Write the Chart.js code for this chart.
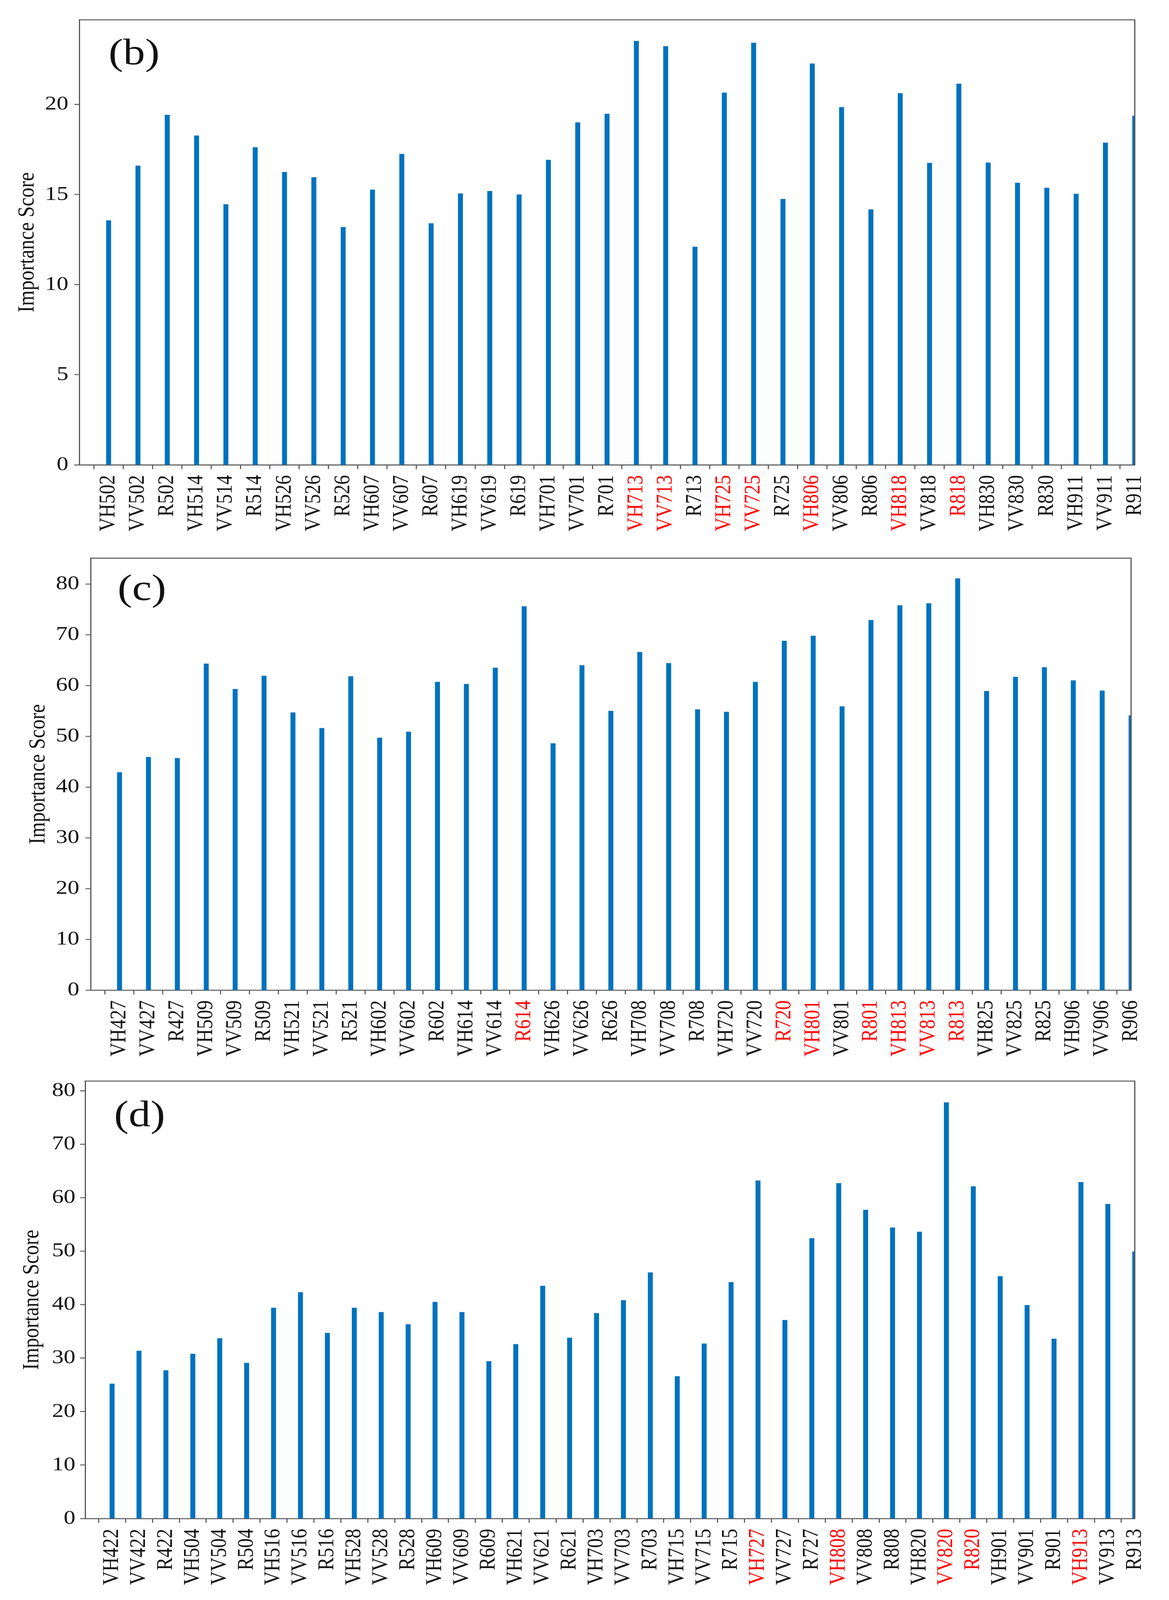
<!DOCTYPE html>
<html>
<head>
<meta charset="utf-8">
<script src="https://cdn.jsdelivr.net/npm/chart.js@4.4.1/dist/chart.umd.min.js"></script>
<style>
  html, body { margin: 0; padding: 0; background: #ffffff; overflow: hidden; }
  #wrap { position: relative; width: 2992px; background: #ffffff; overflow: hidden; }
  canvas { position: absolute; left: 0; }
</style>
</head>
<body>
<div id="wrap">
  <canvas id="chartB" width="2992" height="1640"></canvas>
  <canvas id="chartC" width="2992" height="1590"></canvas>
  <canvas id="chartD" width="2992" height="1621"></canvas>
</div>
<script>
// ---------------- DATA ----------------
const yTitle = 'Importance Score';

// Panel (b)
const bLetter = '(b)';
const bLabels = ['VH502','VV502','R502','VH514','VV514','R514','VH526','VV526','R526',
                 'VH607','VV607','R607','VH619','VV619','R619','VH701','VV701','R701',
                 'VH713','VV713','R713','VH725','VV725','R725','VH806','VV806','R806',
                 'VH818','VV818','R818','VH830','VV830','R830','VH911','VV911','R911'];
const bValues = [13.56,16.6,19.42,18.27,14.46,17.62,16.25,15.96,13.19,
                 15.27,17.25,13.4,15.06,15.19,15.0,16.92,19.0,19.48,
                 23.52,23.23,12.1,20.65,23.42,14.75,22.27,19.85,14.17,
                 20.62,16.75,21.15,16.77,15.65,15.37,15.04,17.88,19.37];
const bRed = ['VH713','VV713','VH725','VV725','VH806','VH818','R818'];
const bYTicks = [0, 5, 10, 15, 20];
const bYMax = 24.7;

// Panel (c)
const cLetter = '(c)';
const cLabels = ['VH427','VV427','R427','VH509','VV509','R509','VH521','VV521','R521',
                 'VH602','VV602','R602','VH614','VV614','R614','VH626','VV626','R626',
                 'VH708','VV708','R708','VH720','VV720','R720','VH801','VV801','R801',
                 'VH813','VV813','R813','VH825','VV825','R825','VH906','VV906','R906'];
const cValues = [42.9,45.9,45.7,64.3,59.3,61.9,54.7,51.6,61.8,
                 49.7,50.9,60.7,60.3,63.5,75.6,48.6,64.0,55.0,
                 66.6,64.4,55.3,54.8,60.7,68.8,69.8,55.9,72.9,
                 75.8,76.2,81.1,58.9,61.7,63.6,61.0,59.0,54.1];
const cRed = ['R614','R720','VH801','R801','VH813','VV813','R813'];
const cYTicks = [0, 10, 20, 30, 40, 50, 60, 70, 80];
const cYMax = 85.1;

// Panel (d)
const dLetter = '(d)';
const dLabels = ['VH422','VV422','R422','VH504','VV504','R504','VH516','VV516','R516',
                 'VH528','VV528','R528','VH609','VV609','R609','VH621','VV621','R621',
                 'VH703','VV703','R703','VH715','VV715','R715','VH727','VV727','R727',
                 'VH808','VV808','R808','VH820','VV820','R820','VH901','VV901','R901',
                 'VH913','VV913','R913'];
const dValues = [25.2,31.35,27.7,30.8,33.7,29.1,39.4,42.3,34.7,
                 39.4,38.6,36.3,40.5,38.6,29.4,32.6,43.5,33.8,
                 38.4,40.8,46.0,26.6,32.7,44.2,63.2,37.1,52.4,
                 62.7,57.7,54.4,53.6,77.8,62.1,45.3,39.9,33.6,
                 62.9,58.8,49.9];
const dRed = ['VH727','VH808','VV820','R820','VH913'];
const dYTicks = [0, 10, 20, 30, 40, 50, 60, 70, 80];
const dYMax = 81.8;

// ---------------- STYLE / LAYOUT ----------------
const FONT = '"Liberation Serif", "Times New Roman", serif';
const BAR_COLOR = '#0072BD';
const AXIS_COLOR = '#555555';
const TEXT_COLOR = '#111111';
const RED = '#FF0000';

// Full design height; the drawing is fitted vertically into the visible window.
const DESIGN_H = 4851;
const fitK = Math.min(1, (window.innerHeight || DESIGN_H) / DESIGN_H);
document.getElementById('wrap').style.height = Math.round(DESIGN_H * fitK) + 'px';

const framePlugin = {
  id: 'panelFrame',
  afterDatasetsDraw(chart) {
    const a = chart.chartArea;
    const ctx = chart.ctx;
    ctx.save();
    ctx.strokeStyle = AXIS_COLOR;
    ctx.lineWidth = 3;
    ctx.lineCap = 'square';
    ctx.beginPath();
    ctx.moveTo(a.left, a.top);
    ctx.lineTo(a.right, a.top);
    ctx.lineTo(a.right, a.bottom);
    ctx.stroke();
    ctx.restore();
  },
  afterDraw(chart, args, opts) {
    const a = chart.chartArea;
    const ctx = chart.ctx;
    ctx.save();
    ctx.fillStyle = TEXT_COLOR;
    ctx.font = '112px ' + FONT;
    ctx.textAlign = 'left';
    ctx.textBaseline = 'alphabetic';
    ctx.fillText(opts.letter, a.left + opts.dx, a.top + opts.dy);
    ctx.restore();
  }
};

function makePanel(id, letter, labels, values, red, yTicks, yMax, g) {
  const canvas = document.getElementById(id);
  canvas.style.top = (g.canvasTop * fitK) + 'px';
  canvas.style.width = canvas.width + 'px';
  canvas.style.height = (canvas.height * fitK) + 'px';
  const redSet = new Set(red);
  const points = labels.map((l, i) => ({ x: i, y: values[i] }));
  new Chart(canvas, {
    type: 'bar',
    data: {
      datasets: [{
        data: points,
        backgroundColor: BAR_COLOR,
        borderWidth: 0,
        barThickness: 12,
        clip: 0
      }]
    },
    options: {
      responsive: false,
      maintainAspectRatio: false,
      devicePixelRatio: 1,
      animation: false,
      events: [],
      layout: { padding: { left: 0, top: g.top, right: g.right, bottom: 0 } },
      plugins: {
        legend: { display: false },
        tooltip: { enabled: false },
        panelFrame: { letter: letter, dx: g.ldx, dy: g.ldy }
      },
      scales: {
        x: {
          type: 'linear',
          min: -1,
          max: labels.length - 1,
          offset: false,
          afterBuildTicks: (s) => { s.ticks = labels.map((l, i) => ({ value: i })); },
          afterFit: (s) => { s.height = g.xh; },
          ticks: {
            autoSkip: false,
            minRotation: 90,
            maxRotation: 90,
            padding: 18,
            font: { family: FONT, size: 58 },
            color: (ctx) => (ctx.tick && redSet.has(labels[ctx.tick.value]) ? RED : TEXT_COLOR),
            callback: (v) => labels[v]
          },
          grid: { display: true, drawOnChartArea: false, drawTicks: true, tickLength: 13, tickWidth: 2.5, tickColor: '#444444' },
          border: { display: true, color: AXIS_COLOR, width: 3 }
        },
        y: {
          type: 'linear',
          min: 0,
          max: yMax,
          afterBuildTicks: (s) => { s.ticks = yTicks.map(v => ({ value: v })); },
          afterFit: (s) => { s.width = g.left; },
          ticks: {
            autoSkip: false,
            includeBounds: false,
            padding: g.ypad,
            font: { family: FONT, size: 60 },
            color: TEXT_COLOR,
            callback: (v) => String(v)
          },
          grid: { display: true, drawOnChartArea: false, drawTicks: true, tickLength: 13, tickWidth: 2.5, tickColor: '#444444' },
          border: { display: true, color: AXIS_COLOR, width: 3 },
          title: {
            display: true,
            text: yTitle,
            color: TEXT_COLOR,
            font: { family: FONT, size: 60, lineHeight: 1 },
            padding: { top: g.tpad, bottom: 0 }
          }
        }
      }
    },
    plugins: [framePlugin]
  });
}

makePanel('chartB', bLetter, bLabels, bValues, bRed, bYTicks, bYMax,
  { canvasTop: 0, left: 203, top: 60, right: 66, xh: 231, ypad: 15, tpad: 40, ldx: 75, ldy: 135 });
makePanel('chartC', cLetter, cLabels, cValues, cRed, cYTicks, cYMax,
  { canvasTop: 1640, left: 232, top: 41, right: 97, xh: 228, ypad: 16, tpad: 68, ldx: 69, ldy: 127 });
makePanel('chartD', dLetter, dLabels, dValues, dRed, dYTicks, dYMax,
  { canvasTop: 3230, left: 218, top: 37, right: 80, xh: 247, ypad: 12, tpad: 52, ldx: 74, ldy: 137 });
</script>
</body>
</html>
